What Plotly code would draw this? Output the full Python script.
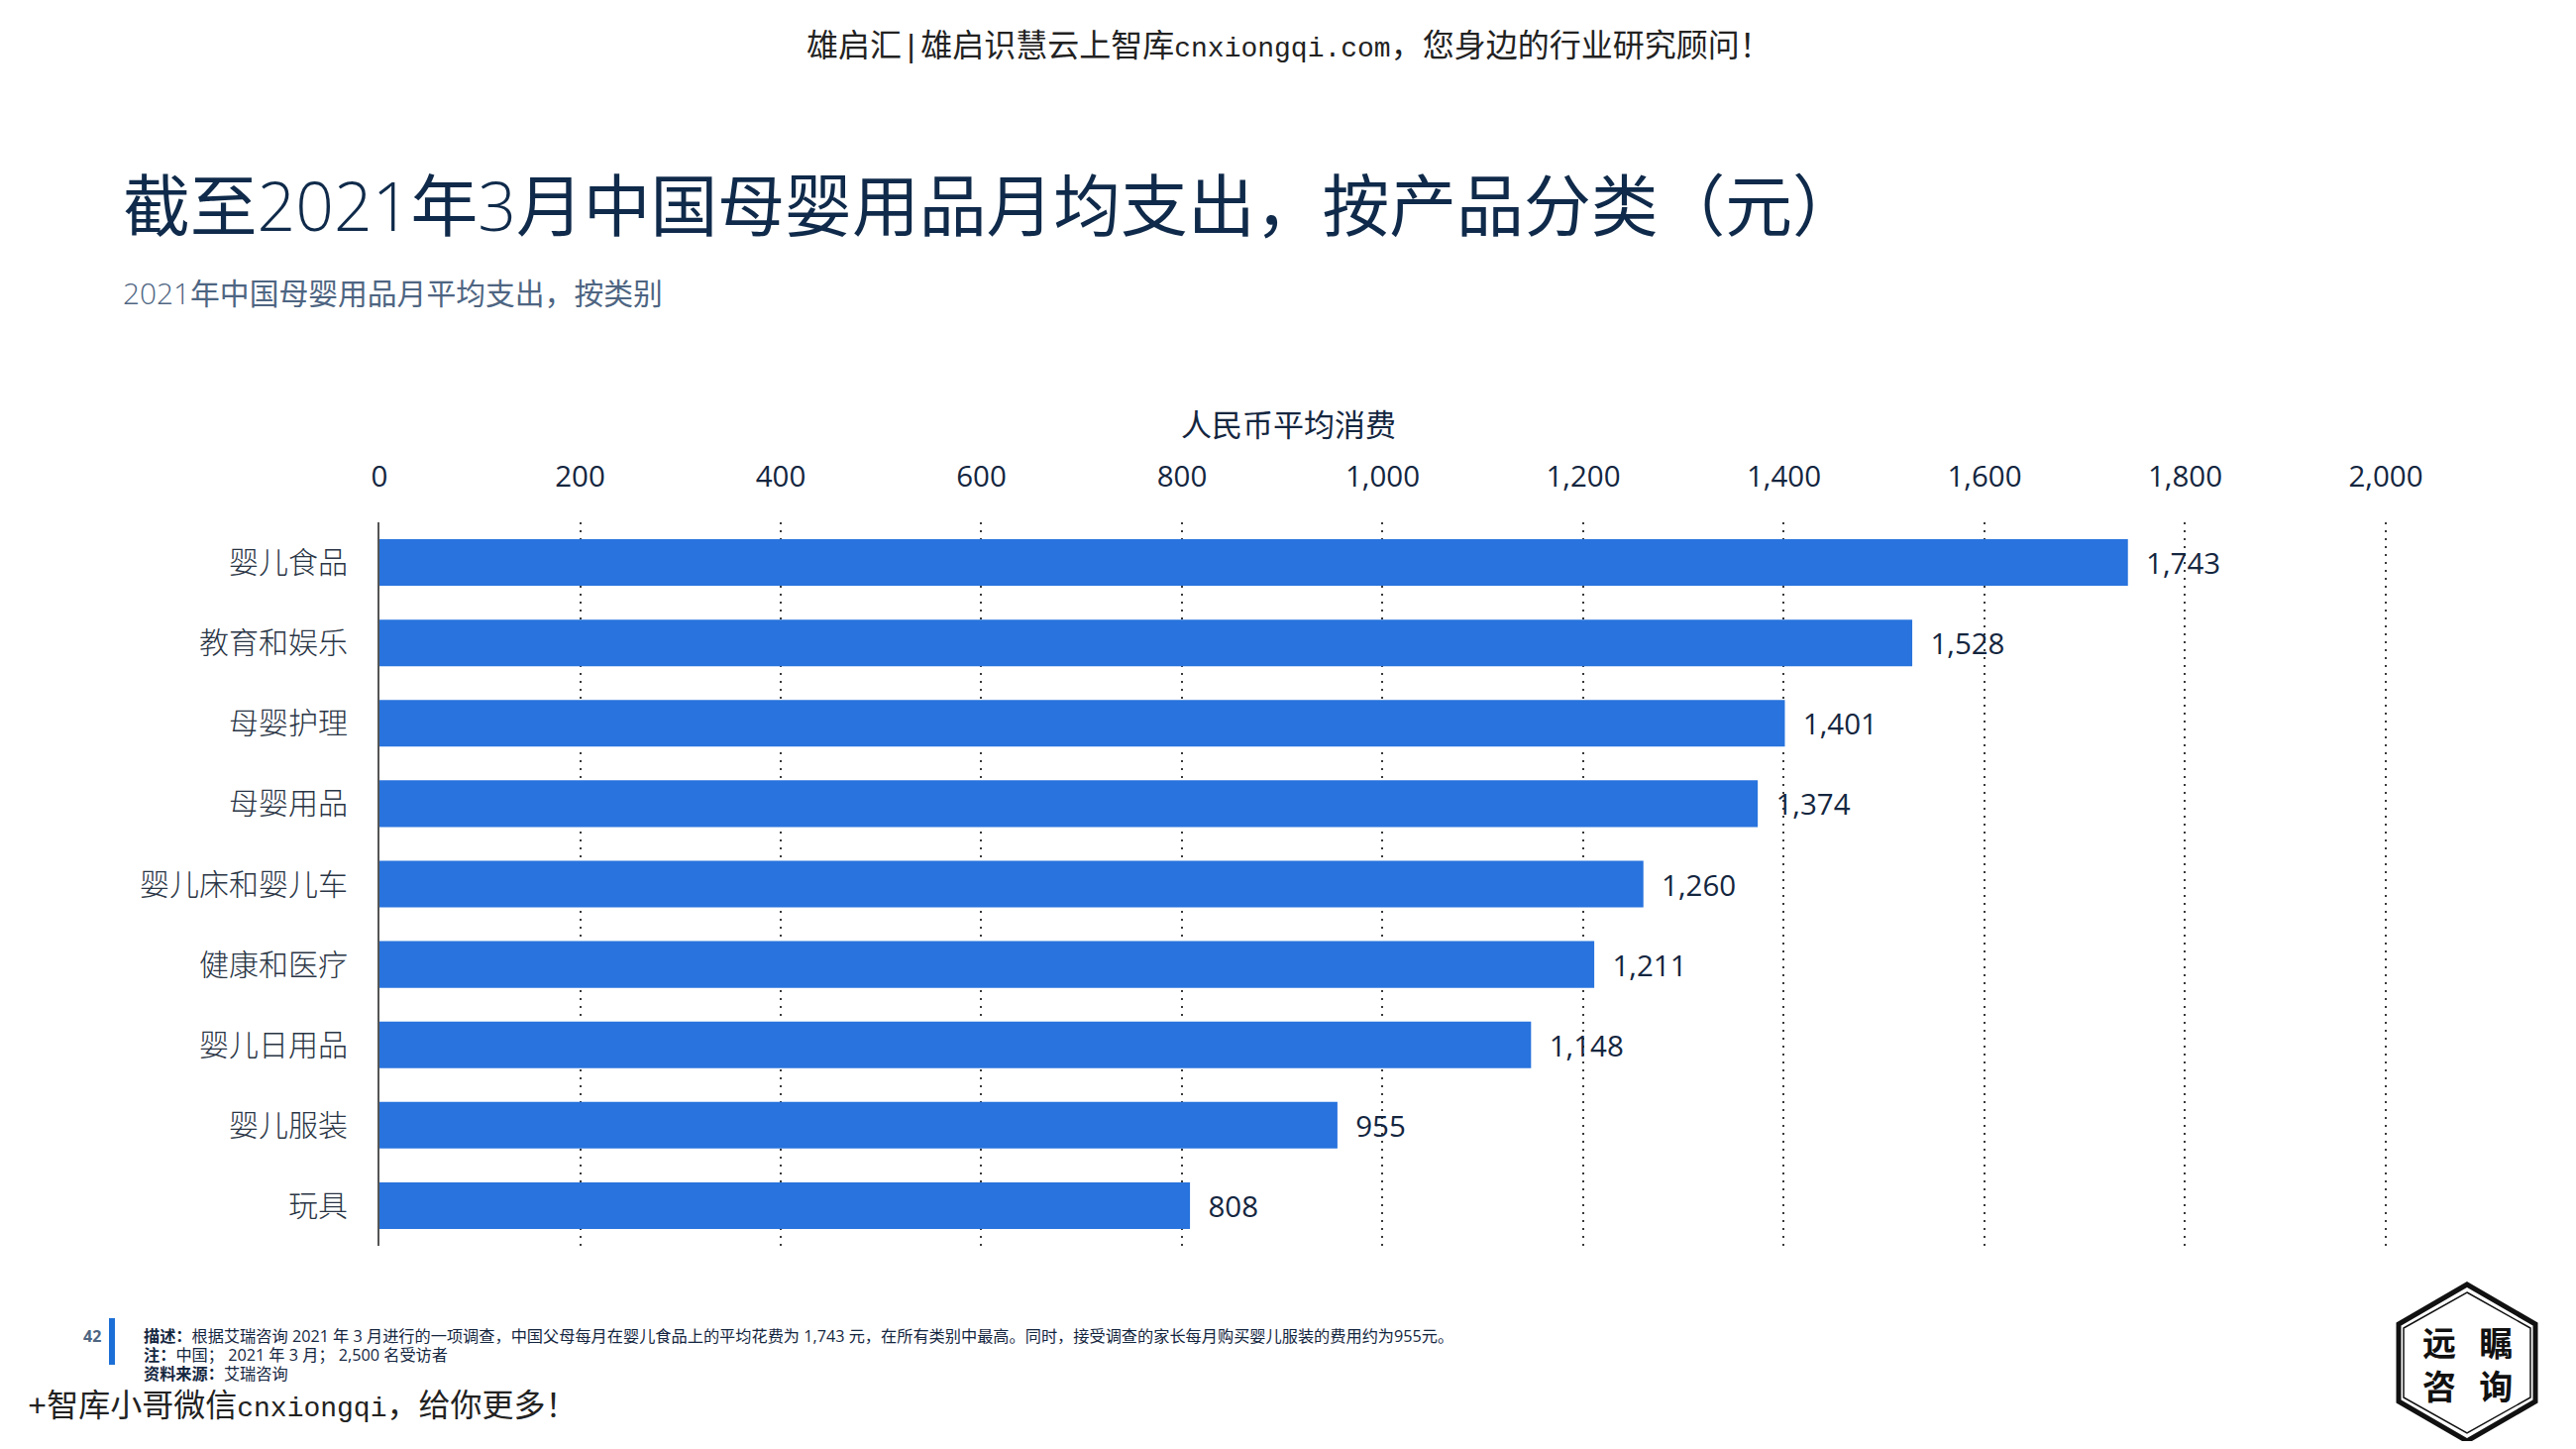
import plotly.graph_objects as go

categories = ["婴儿食品", "教育和娱乐", "母婴护理", "母婴用品", "婴儿床和婴儿车",
              "健康和医疗", "婴儿日用品", "婴儿服装", "玩具"]
spending = [1743, 1528, 1401, 1374, 1260, 1211, 1148, 955, 808]
x_ticks = list(range(0, 2001, 200))
x_max = 2004

# The page adds an 8 px body margin: every layout number below is in picture pixels.
PAGE = 8
W, H = 2600 - 2 * PAGE, 1462 - 2 * PAGE
L, R, T, B = 383, 2412, 527, 1257
SANS = "'Open Sans', 'Noto Sans CJK SC', sans-serif"
CJK = "'Noto Sans CJK SC', sans-serif"
WM = "'Liberation Mono', 'Noto Sans CJK SC', serif"
DARK = "#14263f"
NAVY = "#0f2a4a"
SLATE = "#4e6582"
BLUE = "#2873dd"

fig = go.Figure(go.Bar(
    y=categories, x=spending, orientation="h",
    marker=dict(color=BLUE, line=dict(width=0)),
    text=spending, texttemplate="  %{x:,}", textposition="outside",
    textfont=dict(family=SANS, size=29.5, color=DARK),
    cliponaxis=False, hoverinfo="skip",
))

def px(x, y):
    return (x - L) / (R - L), 1 - (y - T) / (B - T)

def note(x, y, text, size, color, family=SANS, anchor="left", weight=None):
    xp, yp = px(x, y)
    font = dict(size=size, color=color, family=family)
    if weight:
        font["weight"] = weight
    fig.add_annotation(xref="paper", yref="paper", x=xp, y=yp, text=text,
                       showarrow=False, xanchor=anchor, yanchor="middle",
                       align=anchor, font=font, borderpad=0, borderwidth=0)

def light(s):
    return "<span style='font-weight:300'>" + s + "</span>"

note(1301, 48.5, "雄启汇|雄启识慧云上智库<span style='font-size:28px'>cnxiongqi.com</span>，您身边的行业研究顾问！",
     32, "#222222", WM, "center")
note(124, 206.5, "截至" + light("2021") + "年" + light("3") + "月中国母婴用品月均支出，按产品分类（元）", 67.8, NAVY)
note(124, 295, light("2021") + "年中国母婴用品月平均支出，按类别", 29.8, SLATE)
note(1300, 428, "人民币平均消费", 31, DARK, anchor="center")

note(84, 1347.5, "<b>42</b>", 16, SLATE)
note(145, 1347.5, "<b>描述：</b>根据艾瑞咨询 2021 年 3 月进行的一项调查，中国父母每月在婴儿食品上的平均花费为 1,743 元，在所有类别中最高。同时，接受调查的家长每月购买婴儿服装的费用约为955元。", 16.2, DARK)
note(145, 1366.5, "<b>注：</b>中国； 2021 年 3 月； 2,500 名受访者", 16.2, DARK)
note(145, 1385.5, "<b>资料来源：</b>艾瑞咨询", 16.2, DARK)
note(28, 1420, "+智库小哥微信<span style='font-size:28px'>cnxiongqi</span>，给你更多！", 32, "#222222", WM)

def hexagon(cx, cy, rx, ry, sh, lw):
    pts = [(cx, cy - ry), (cx + rx, cy - sh), (cx + rx, cy + sh),
           (cx, cy + ry), (cx - rx, cy + sh), (cx - rx, cy - sh)]
    d = "M " + " L ".join("{:.5f},{:.5f}".format(*px(a, b)) for a, b in pts) + " Z"
    fig.add_shape(type="path", path=d, xref="paper", yref="paper",
                  line=dict(color="#111111", width=lw), layer="above")

x0, y0 = px(110, 1377)
x1, y1 = px(116, 1330)
fig.add_shape(type="rect", xref="paper", yref="paper", x0=x0, x1=x1, y0=y0, y1=y1,
              fillcolor="#1c6fd6", line=dict(width=0))
hexagon(2490, 1375, 69, 79, 39, 5)
hexagon(2490, 1375, 64, 71, 35, 1.5)
gap = "\u00a0\u00a0\u00a0"
note(2490, 1375, "<b>远" + gap + "瞩<br>咨" + gap + "询</b>", 34, "#111111", CJK, "center")

fig.update_layout(
    width=W, height=H, autosize=False,
    margin=dict(l=L - PAGE, r=W + PAGE - R, t=T - PAGE, b=H + PAGE - B),
    paper_bgcolor="white", plot_bgcolor="white",
    showlegend=False, bargap=0.42,
    font=dict(family=SANS, color=DARK),
    xaxis=dict(side="top", range=[0, x_max], tickvals=x_ticks, tickformat=",",
               showgrid=True, gridcolor="#3a3a3a", griddash="2px,6px", gridwidth=2,
               zeroline=False, showline=False, ticks="",
               ticklabelstandoff=29, tickfont=dict(size=29.5, color=DARK, family=SANS)),
    yaxis=dict(autorange="reversed", categoryorder="array", categoryarray=categories,
               showgrid=False, zeroline=False, showline=True, linecolor="#555555", linewidth=2,
               ticks="", ticklabelstandoff=24,
               tickfont=dict(size=30, color="#2a3545", family=CJK, weight=300)),
)

fig.write_html("out.html")
